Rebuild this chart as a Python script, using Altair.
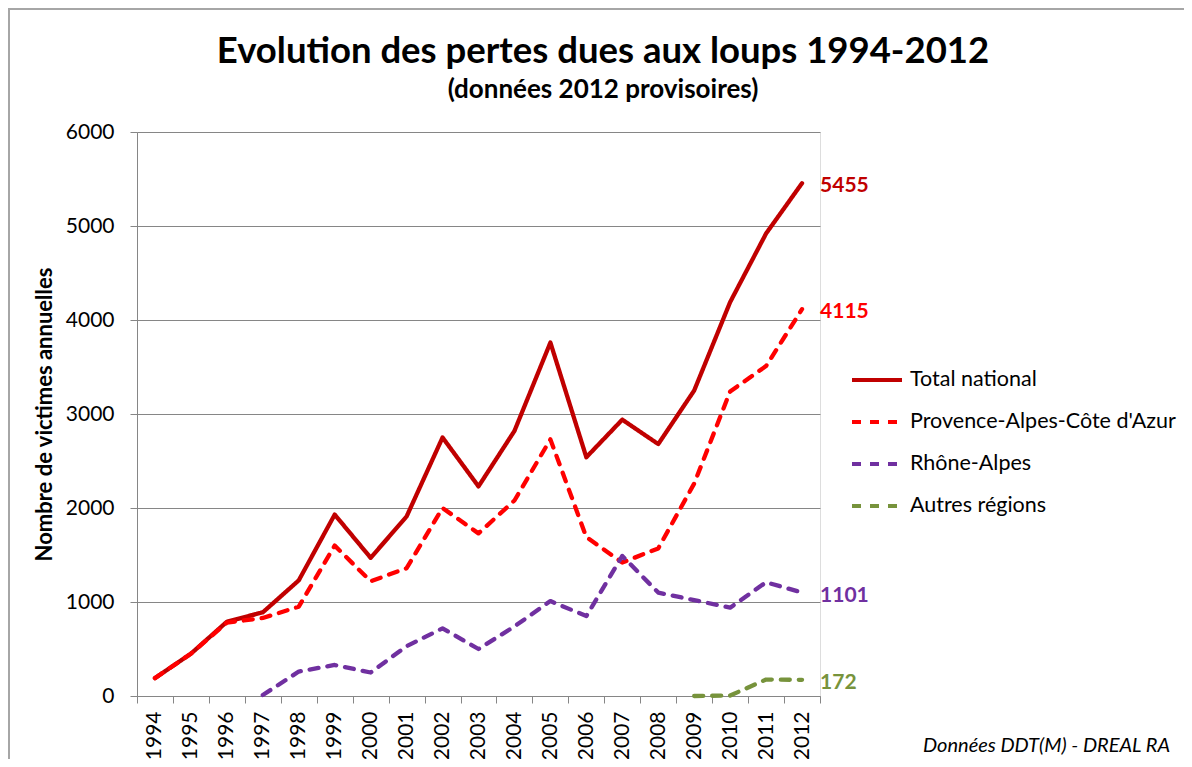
import altair as alt
import pandas as pd

years = ["1994", "1995", "1996", "1997", "1998", "1999", "2000", "2001", "2002", "2003",
         "2004", "2005", "2006", "2007", "2008", "2009", "2010", "2011", "2012"]
total = [190, 450, 790, 890, 1230, 1930, 1470, 1910, 2750, 2230,
         2820, 3760, 2540, 2940, 2680, 3250, 4190, 4920, 5455]
paca = [190, 450, 780, 830, 950, 1600, 1220, 1360, 2000, 1730,
        2080, 2730, 1690, 1420, 1570, 2260, 3240, 3510, 4115]
rhone = [None, None, None, 10, 260, 330, 250, 530, 720, 500,
         740, 1010, 850, 1490, 1100, 1020, 940, 1210, 1101]
autres = [None, None, None, None, None, None, None, None, None, None,
          None, None, None, None, None, 0, 5, 175, 172]

series_names = ["Total national", "Provence-Alpes-Côte d'Azur", "Rhône-Alpes", "Autres régions"]
series_values = [total, paca, rhone, autres]
series_colors = ["#C00000", "#FF0000", "#7030A0", "#77933C"]
series_dash = [[1, 0], [9, 9], [9, 9], [9, 9]]

title_text = "Evolution des pertes dues aux loups 1994-2012"
subtitle_text = "(données 2012 provisoires)"
y_title = "Nombre de victimes annuelles"
source_text = "Données DDT(M) - DREAL RA"

rows = []
for name, vals in zip(series_names, series_values):
    for yr, v in zip(years, vals):
        if v is not None:
            rows.append({"year": yr, "value": v, "series": name})
df = pd.DataFrame(rows)
last = df[df["year"] == years[-1]].copy()

FONT = "Lato"
W, H = 683, 564
GRAY = "#868686"

x_enc = alt.X("year:O", sort=years, bandPosition=0.5,
              scale=alt.Scale(type="band", paddingInner=0, paddingOuter=0),
              axis=alt.Axis(title=None, labelAngle=270, labelAlign="right", labelBaseline="middle",
                            labelFontSize=21, labelColor="#000000", labelPadding=8,
                            tickBand="extent", tickSize=7, tickColor=GRAY,
                            domainColor=GRAY, grid=False, labelFont=FONT))
y_enc = alt.Y("value:Q", scale=alt.Scale(domain=[0, 6000], nice=False),
              axis=alt.Axis(title=y_title, values=[0, 1000, 2000, 3000, 4000, 5000, 6000],
                            format="d",
                            labelFontSize=21, labelColor="#000000", labelPadding=16,
                            tickSize=7, tickColor=GRAY, domainColor=GRAY,
                            gridColor=GRAY, gridWidth=1,
                            titleFontSize=22, titleFontWeight="bold", titleColor="#000000",
                            titlePadding=9, labelFont=FONT, titleFont=FONT))

color_scale = alt.Scale(domain=series_names, range=series_colors)
dash_scale = alt.Scale(domain=series_names, range=series_dash)

lines = alt.Chart(df).mark_line(strokeWidth=4.3, strokeCap="round", strokeJoin="round").encode(
    x=x_enc, y=y_enc,
    color=alt.Color("series:N", scale=color_scale, title=None,
                    legend=alt.Legend(orient="none", legendX=713, legendY=221,
                                      symbolType="stroke", symbolSize=2500, symbolStrokeWidth=4,
                                      labelFontSize=21.5, labelColor="#000000", labelFont=FONT,
                                      labelLimit=400, rowPadding=4, labelOffset=6)),
    strokeDash=alt.StrokeDash("series:N", scale=dash_scale, title=None),
    detail="series:N",
)

labels = alt.Chart(last).mark_text(align="left", baseline="middle", dx=18, dy=3, fontSize=21,
                                   fontWeight="bold", font=FONT).encode(
    x=alt.X("year:O", sort=years, bandPosition=0.5), y="value:Q",
    text=alt.Text("value:Q", format="d"),
    color=alt.Color("series:N", scale=color_scale, legend=None),
)

def text_layer(txt, x, y, size, weight="normal", style="normal", align="center"):
    return alt.Chart(pd.DataFrame({"t": [txt]})).mark_text(
        align=align, baseline="alphabetic", fontSize=size, fontWeight=weight,
        fontStyle=style, font=FONT, color="#000000").encode(
        text="t:N", x=alt.value(x), y=alt.value(y))

title = text_layer(title_text, 466, -69, 36.5, weight="bold")
subtitle = text_layer(subtitle_text, 466, -34, 26, weight="bold")
source = text_layer(source_text, 1033, 620, 20, style="italic", align="right")

border_top = alt.Chart(pd.DataFrame({"a": [0]})).mark_rule(color="#A6A6A6", strokeWidth=2).encode(
    x=alt.value(-129), x2=alt.value(1100), y=alt.value(-123))
border_left = alt.Chart(pd.DataFrame({"a": [0]})).mark_rule(color="#A6A6A6", strokeWidth=2).encode(
    x=alt.value(-128), y=alt.value(-123), y2=alt.value(700))

chart = alt.layer(border_top, border_left, lines, labels, title, subtitle, source).properties(
    width=W, height=H,
    padding={"left": 129, "top": 124, "right": 364, "bottom": 63},
    autosize=alt.AutoSizeParams(type="none"),
).configure_view(stroke=None).configure(font=FONT).resolve_scale(color="shared")

chart.save("out.html", embed_options={"renderer": "svg", "actions": False})
